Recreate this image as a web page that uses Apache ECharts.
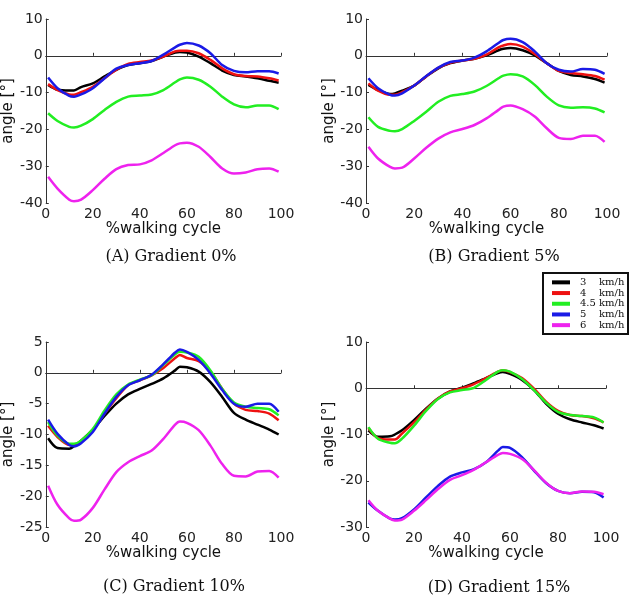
<!DOCTYPE html>
<html>
<head>
<meta charset="utf-8">
<script src="https://cdn.jsdelivr.net/npm/echarts@6/dist/echarts.min.js"></script>
<style>
  html, body { margin: 0; padding: 0; background: #fff; }
  #chart { width: 630px; height: 609px; }
</style>
</head>
<body>
<div id="chart"></div>
<script>
// % walking cycle sample points
const xs = [1, 5, 10, 12, 15, 20, 25, 30, 35, 40, 45, 50, 55, 57, 60, 65, 70, 75, 80, 85, 90, 95, 99]
const speeds = ['3 km/h', '4 km/h', '4.5 km/h', '5 km/h', '6 km/h']
const colors = ['#000000', '#ee1111', '#22ee22', '#1a1ae6', '#ee22ee']
const panelTitles = ['(A) Gradient 0%', '(B) Gradient 5%', '(C) Gradient 10%', '(D) Gradient 15%']

// (A) gradient 0%
const a3 = [-7.9, -9.2, -9.4, -9.4, -8.5, -7.5, -5.6, -3.8, -2.5, -2.0, -1.4, -0.2, 0.9, 1.0, 0.9, -0.2, -2.0, -4.0, -5.2, -5.6, -6.1, -6.8, -7.3]
const a4 = [-7.7, -9.3, -10.5, -10.6, -9.9, -8.4, -6.1, -3.8, -2.2, -1.7, -1.3, -0.2, 1.2, 1.4, 1.4, 0.7, -1.1, -3.4, -5.0, -5.5, -5.6, -6.1, -6.7]
const a45 = [-15.6, -17.7, -19.3, -19.5, -19.0, -17.2, -14.7, -12.5, -11.1, -10.8, -10.5, -9.3, -7.2, -6.4, -5.9, -6.5, -8.4, -11.1, -13.2, -14.0, -13.5, -13.5, -14.5]
const a5 = [-5.9, -8.8, -10.9, -11.1, -10.5, -8.8, -6.1, -3.5, -2.5, -2.0, -1.4, 0.3, 2.3, 3.0, 3.5, 2.8, 0.7, -2.5, -4.1, -4.5, -4.2, -4.2, -4.8]
const a6 = [-32.9, -36.1, -39.1, -39.5, -39.1, -36.5, -33.4, -30.8, -29.7, -29.5, -28.4, -26.4, -24.3, -23.8, -23.6, -24.7, -27.5, -30.6, -32.0, -31.7, -30.8, -30.6, -31.5]

// (B) gradient 5%
const b3 = [-7.9, -9.3, -10.4, -10.2, -9.5, -8.1, -5.6, -3.4, -2.0, -1.3, -0.8, 0.1, 1.5, 1.9, 2.1, 1.5, 0.1, -2.0, -4.1, -5.2, -5.6, -6.3, -7.3]
const b4 = [-7.5, -9.5, -10.6, -10.6, -9.9, -8.1, -5.6, -3.3, -1.9, -1.3, -0.8, 0.3, 2.3, 2.8, 3.2, 2.5, 0.5, -2.0, -4.1, -4.7, -5.0, -5.5, -6.5]
const b45 = [-16.7, -19.3, -20.4, -20.5, -19.9, -17.7, -15.2, -12.5, -10.9, -10.4, -9.7, -8.2, -6.1, -5.4, -5.0, -5.6, -7.9, -11.1, -13.5, -14.1, -14.0, -14.3, -15.4]
const b5 = [-6.1, -8.8, -10.6, -10.8, -10.2, -8.1, -5.5, -3.2, -1.7, -1.3, -0.5, 1.2, 3.5, 4.3, 4.6, 3.7, 1.2, -2.0, -3.8, -4.3, -3.6, -3.8, -4.9]
const b6 = [-24.7, -27.9, -30.2, -30.6, -30.4, -27.9, -25.0, -22.5, -20.8, -19.9, -18.8, -17.0, -14.7, -13.8, -13.5, -14.5, -16.5, -19.7, -22.3, -22.6, -21.7, -21.7, -23.4]

// (C) gradient 10%
const c3 = [-10.6, -12.2, -12.3, -11.9, -11.0, -9.2, -7.0, -5.0, -3.5, -2.6, -1.8, -0.9, 0.4, 1.0, 0.9, 0.2, -1.5, -3.9, -6.5, -7.6, -8.4, -9.2, -10.0]
const c4 = [-8.6, -10.4, -11.7, -11.7, -11.1, -9.3, -6.6, -4.1, -2.0, -1.2, -0.4, 0.8, 2.4, 2.9, 2.4, 1.9, 0.2, -2.6, -5.0, -6.0, -6.2, -6.6, -7.7]
const c45 = [-8.0, -10.2, -11.5, -11.5, -11.0, -9.1, -6.1, -3.5, -1.9, -1.1, -0.4, 1.3, 3.0, 3.4, 3.3, 2.6, 0.4, -2.6, -4.8, -5.5, -5.7, -5.9, -6.9]
const c5 = [-7.6, -9.9, -11.7, -11.9, -11.4, -9.6, -6.6, -3.9, -2.0, -1.2, -0.3, 1.4, 3.3, 3.8, 3.4, 2.1, -0.1, -2.8, -5.0, -5.5, -5.0, -5.0, -6.3]
const c6 = [-18.3, -21.4, -23.6, -24.0, -23.8, -21.9, -18.9, -16.1, -14.5, -13.5, -12.6, -10.7, -8.4, -7.9, -8.1, -9.3, -11.8, -14.8, -16.7, -16.8, -16.0, -15.9, -17.0]

// (D) gradient 15%
const d3 = [-9.1, -10.5, -10.4, -10.0, -9.1, -6.9, -4.4, -2.2, -0.7, 0.1, 1.1, 2.2, 3.3, 3.5, 3.1, 1.8, -0.4, -3.3, -5.5, -6.7, -7.4, -8.0, -8.7]
const d4 = [-8.6, -10.8, -11.1, -11.1, -9.8, -7.4, -4.6, -2.2, -0.7, 0.0, 0.9, 2.2, 3.6, 3.9, 3.5, 2.2, -0.1, -2.9, -4.9, -5.8, -6.0, -6.5, -7.4]
const d45 = [-8.4, -10.9, -11.8, -11.9, -10.9, -8.1, -4.9, -2.3, -0.9, -0.4, 0.1, 1.8, 3.6, 3.9, 3.6, 2.0, -0.4, -3.1, -5.1, -5.8, -6.0, -6.3, -7.4]
const d5 = [-24.7, -26.5, -28.2, -28.4, -28.1, -26.2, -23.6, -21.1, -19.1, -18.2, -17.5, -16.0, -13.5, -12.7, -12.9, -14.9, -17.8, -20.5, -22.2, -22.7, -22.4, -22.5, -23.6]
const d6 = [-24.2, -26.5, -28.2, -28.6, -28.4, -26.5, -24.2, -21.8, -19.8, -18.8, -17.6, -16.0, -14.4, -14.0, -14.2, -15.3, -17.7, -20.4, -22.2, -22.7, -22.3, -22.4, -22.9]

// y axis ranges per panel
const yMin = [-40, -40, -25, -30]
const yMax = [10, 10, 5, 10]
const yStep = [10, 10, 5, 10]

const panels = [
  [a3, a4, a45, a5, a6],
  [b3, b4, b45, b5, b6],
  [c3, c4, c45, c5, c6],
  [d3, d4, d45, d5, d6]
]

const grids = [
  { left: 41, top: 19, width: 240, height: 184 },
  { left: 366, top: 19, width: 241, height: 184 },
  { left: 41, top: 342, width: 240, height: 185 },
  { left: 366, top: 342, width: 240, height: 185 }
]
const titlePos = [[171, 249], [494, 249], [174, 579], [499, 580]]

const sans = 'DejaVu Sans'
const axisColor = '#333'

const xAxes = grids.map((g, i) => ({
  type: 'value',
  gridIndex: i,
  min: 0,
  max: 100,
  interval: 20,
  name: '%walking cycle',
  nameLocation: 'middle',
  nameGap: 19,
  nameTextStyle: { fontFamily: sans, fontSize: 15, color: '#111' },
  axisLine: { show: true, lineStyle: { color: axisColor, width: 1 } },
  axisTick: { show: true, inside: true, length: 3, lineStyle: { color: axisColor } },
  axisLabel: { fontFamily: sans, fontSize: 14, color: '#222', margin: 4 },
  splitLine: { show: false }
}))

const yAxes = grids.map((g, i) => ({
  type: 'value',
  gridIndex: i,
  min: yMin[i],
  max: yMax[i],
  interval: yStep[i],
  name: 'angle [°]',
  nameLocation: 'middle',
  nameGap: 25,
  nameTextStyle: { fontFamily: sans, fontSize: 15, color: '#111' },
  axisLine: { show: true, lineStyle: { color: axisColor, width: 1 } },
  axisTick: { show: true, inside: true, length: 3, lineStyle: { color: axisColor } },
  axisLabel: { fontFamily: sans, fontSize: 14, color: '#222', margin: 3 },
  splitLine: { show: false }
}))

const series = []
panels.forEach((rows, p) => {
  rows.forEach((vals, k) => {
    series.push({
      name: speeds[k],
      type: 'line',
      xAxisIndex: p,
      yAxisIndex: p,
      smooth: 0.3,
      showSymbol: false,
      color: colors[k],
      lineStyle: { width: 2.5, color: colors[k] },
      data: xs.map((x, j) => [x, vals[j]])
    })
  })
})

const chart = echarts.init(document.getElementById('chart'), null, { renderer: 'canvas' })
chart.setOption({
  animation: false,
  backgroundColor: '#fff',
  title: panelTitles.map((t, i) => ({
    text: t,
    left: titlePos[i][0],
    top: titlePos[i][1],
    textAlign: 'center',
    padding: 0,
    textStyle: { fontFamily: 'DejaVu Serif', fontSize: 16, fontWeight: 'normal', color: '#111' }
  })),
  grid: grids,
  xAxis: xAxes,
  yAxis: yAxes,
  legend: {
    orient: 'vertical',
    left: 552,
    top: 277,
    padding: 0,
    itemGap: 0,
    itemWidth: 18,
    itemHeight: 4,
    icon: 'rect',
    data: speeds,
    formatter: name => {
      const parts = name.split(' ')
      return '{s|}{n|' + parts[0] + '}{u|' + parts[1] + '}'
    },
    textStyle: {
      fontFamily: 'DejaVu Serif',
      fontSize: 10,
      color: '#111',
      lineHeight: 10.7,
      rich: {
        s: { width: 5 },
        n: { width: 19, fontFamily: 'DejaVu Serif', fontSize: 10, lineHeight: 10.7 },
        u: { fontFamily: 'DejaVu Serif', fontSize: 10, lineHeight: 10.7 }
      }
    }
  },
  graphic: [{
    type: 'rect',
    shape: { x: 543, y: 273, width: 85, height: 61 },
    style: { fill: 'none', stroke: '#111', lineWidth: 2 }
  }],
  series
})
</script>
</body>
</html>
